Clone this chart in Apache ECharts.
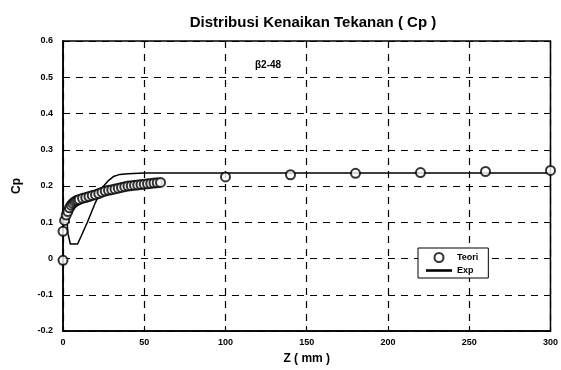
<!DOCTYPE html>
<html><head><meta charset="utf-8">
<script src="https://cdn.jsdelivr.net/npm/echarts@6/dist/echarts.min.js"></script>
<style>html,body{margin:0;padding:0;background:#fff}#c{width:561px;height:370px}</style>
</head><body><div id="c"></div>
<script>
// Teori (circles): z (mm) and Cp
var teoriZ = [0, 0, 1, 2, 3, 4, 5, 6, 7, 8, 9, 10, 12, 14, 16, 18, 20, 22, 24, 26, 28, 30, 32, 34, 36, 38, 40, 42, 44, 46, 48, 50, 52, 54, 56, 58, 60, 100, 140, 180, 220, 260, 300];
var teoriCp = [-0.005, 0.075, 0.105, 0.12, 0.13, 0.14, 0.147, 0.152, 0.156, 0.159, 0.161, 0.163, 0.166, 0.168, 0.171, 0.174, 0.176, 0.179, 0.183, 0.186, 0.188, 0.19, 0.192, 0.194, 0.196, 0.198, 0.2, 0.201, 0.202, 0.203, 0.204, 0.205, 0.206, 0.207, 0.208, 0.209, 0.21, 0.225, 0.231, 0.235, 0.237, 0.24, 0.243];
// Exp (line)
var expZ = [2.5, 3, 4.5, 9, 15, 20, 25, 28, 31, 35, 40, 50, 300];
var expCp = [0.10, 0.07, 0.04, 0.04, 0.10, 0.155, 0.20, 0.215, 0.226, 0.232, 0.234, 0.236, 0.236];
var xTicks = [0, 50, 100, 150, 200, 250, 300];
var yTicks = [-0.2, -0.1, 0, 0.1, 0.2, 0.3, 0.4, 0.5, 0.6];

var teori = teoriZ.map(function (z, i) { return [z, teoriCp[i]]; });
var exp = expZ.map(function (z, i) { return [z, expCp[i]]; });
var F = '"Liberation Sans", Arial, sans-serif';
var dash = { color: '#000', width: 1.2, type: [7, 6] };

var chart = echarts.init(document.getElementById('c'), null, { renderer: 'canvas' });
chart.setOption({
  animation: false,
  backgroundColor: '#fff',
  title: {
    text: 'Distribusi Kenaikan Tekanan ( Cp )',
    left: 308, top: 10, textAlign: 'center',
    textStyle: { fontFamily: F, fontSize: 15, fontWeight: 'bold', color: '#000' }
  },
  graphic: [{
    type: 'text', left: 255, top: 60,
    style: { text: 'β2-48', font: 'bold 10px ' + F, fill: '#000' }
  }],
  grid: { left: 63, right: 7, top: 41, bottom: 31, show: true, borderColor: '#000', borderWidth: 1.5, backgroundColor: 'transparent' },
  legend: {
    orient: 'vertical', left: 418, top: 248,
    backgroundColor: '#fff', borderColor: '#000', borderWidth: 1, borderRadius: 0,
    padding: [4, 10, 3, 8], itemGap: 3, itemWidth: 26, itemHeight: 9,
    textStyle: { fontFamily: F, fontSize: 9, fontWeight: 'bold', color: '#000' },
    data: [
      { name: 'Teori', icon: 'emptyCircle', itemStyle: { color: '#000', borderColor: '#000', borderWidth: 1.3 } },
      { name: 'Exp', icon: 'path://M0,0H30V3H0Z', itemStyle: { color: '#000' } }
    ]
  },
  xAxis: {
    type: 'value', min: 0, max: 300, interval: 50,
    name: 'Z ( mm )', nameLocation: 'middle', nameGap: 22,
    nameTextStyle: { fontFamily: F, fontSize: 12, fontWeight: 'bold', color: '#000' },
    axisLine: { show: true, onZero: false, lineStyle: { color: '#000', width: 1.5 } },
    axisTick: { show: true, inside: true, length: 5, lineStyle: { color: '#000' } },
    axisLabel: { fontFamily: F, fontSize: 9, fontWeight: 'bold', color: '#000', margin: 7 },
    splitLine: { show: true, lineStyle: dash }
  },
  yAxis: {
    type: 'value', min: -0.2, max: 0.6, interval: 0.1,
    name: 'Cp', nameLocation: 'middle', nameGap: 40, nameRotate: 90,
    nameTextStyle: { fontFamily: F, fontSize: 12, fontWeight: 'bold', color: '#000' },
    axisLine: { show: true, onZero: false, lineStyle: { color: '#000', width: 1.5 } },
    axisTick: { show: true, inside: true, length: 5, lineStyle: { color: '#000' } },
    axisLabel: { fontFamily: F, fontSize: 9, fontWeight: 'bold', color: '#000', margin: 10,
      formatter: function (v) { return String(Math.round(v * 10) / 10); } },
    splitLine: { show: true, lineStyle: dash }
  },
  series: [
    { name: 'Teori', type: 'scatter', data: teori, symbol: 'emptyCircle', symbolSize: 9,
      itemStyle: { color: '#000', borderColor: '#000', borderWidth: 1.3 }, z: 3 },
    { name: 'Exp', type: 'line', data: exp, symbol: 'none', smooth: false,
      lineStyle: { color: '#000', width: 1.5 }, itemStyle: { color: '#000' }, z: 2 }
  ]
});
</script></body></html>
